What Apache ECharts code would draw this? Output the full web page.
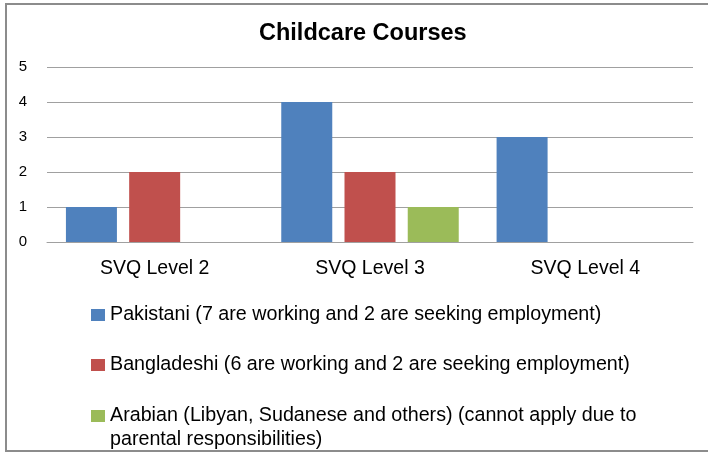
<!DOCTYPE html>
<html>
<head>
<meta charset="utf-8">
<script src="https://cdn.jsdelivr.net/npm/echarts@6/dist/echarts.min.js"></script>
<style>
  html, body { margin: 0; padding: 0; background: #fff; }
  #chart { width: 708px; height: 453px; }
</style>
</head>
<body>
<div id="chart"></div>
<script>
const categories = ['SVQ Level 2', 'SVQ Level 3', 'SVQ Level 4'];
const seriesNames = [
  'Pakistani (7 are working and 2 are seeking employment)',
  'Bangladeshi (6 are working and 2 are seeking employment)',
  'Arabian (Libyan, Sudanese and others) (cannot apply due to parental responsibilities)'
];
const pakistani = [1, 4, 3];
const bangladeshi = [2, 2, 0];
const arabian = [0, 1, 0];
const colors = ['#4f81bd', '#c0504d', '#9bbb59'];

const font = 'Liberation Sans, Arial, sans-serif';
const chart = echarts.init(document.getElementById('chart'));

// one legend per entry so each row can sit where it sits in the picture
const legendTops = [303, 353, 380];
const legends = seriesNames.map((name, i) => ({
  data: [name],
  left: 91,
  top: legendTops[i],
  padding: 0,
  itemWidth: 14,
  itemHeight: 12,
  itemGap: 0,
  icon: 'rect',
  selectedMode: false,
  // long entry wraps; a leading blank line keeps the icon level with the first text line
  formatter: n => n.indexOf('(cannot apply') > 0
    ? '\n' + n.replace(' (cannot apply due to parental', ' (cannot apply due to\nparental')
    : n,
  textStyle: {
    fontFamily: font,
    fontSize: 19.7,
    color: '#000',
    lineHeight: 24
  }
}));

chart.setOption({
  animation: false,
  title: {
    text: 'Childcare Courses',
    left: 254,
    top: 17,
    textStyle: { fontFamily: font, fontSize: 23.5, fontWeight: 'bold', color: '#000' }
  },
  legend: legends,
  grid: { left: 47, right: 15, top: 67, height: 175 },
  xAxis: {
    type: 'category',
    data: categories,
    axisTick: { show: false },
    axisLine: { lineStyle: { color: '#a0a0a0', width: 1 } },
    axisLabel: { margin: 17, fontFamily: font, fontSize: 19.5, color: '#000' }
  },
  yAxis: {
    type: 'value',
    min: 0,
    max: 5,
    interval: 1,
    axisLine: { show: false },
    axisTick: { show: false },
    splitLine: { lineStyle: { color: '#a0a0a0', width: 1 } },
    axisLabel: { margin: 20, fontFamily: font, fontSize: 15, color: '#000' }
  },
  series: [pakistani, bangladeshi, arabian].map((d, i) => ({
    name: seriesNames[i],
    type: 'bar',
    data: d,
    barWidth: 51,
    barGap: '24%',
    itemStyle: { color: colors[i] }
  })),
  graphic: [{
    type: 'rect',
    shape: { x: 6, y: 4, width: 720, height: 447 },
    style: { fill: 'none', stroke: '#8c8c8c', lineWidth: 2 },
    silent: true
  }]
});
</script>
</body>
</html>
